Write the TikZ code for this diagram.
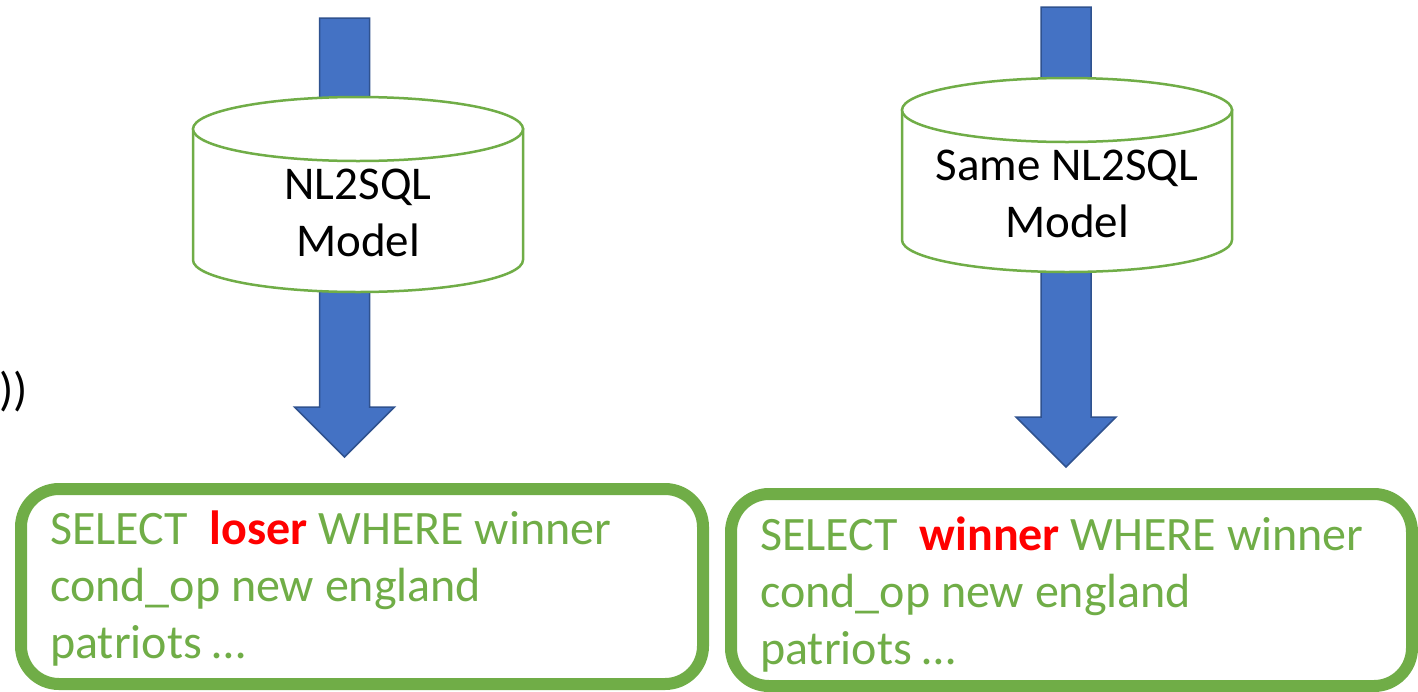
\documentclass[tikz,border=0pt]{standalone}
\usepackage{fontspec}
\setmainfont{Carlito}
\usepackage{tikz}
\usetikzlibrary{calc}

\definecolor{arrowblue}{HTML}{4472C4}
\definecolor{arrowedge}{HTML}{2F528F}
\definecolor{drumgreen}{HTML}{70AD47}
\definecolor{hotred}{HTML}{FF0000}

% block arrow pointing down: (x center, top y, tip y)
\def\modelarrow(#1,#2,#3){\draw[arrowbody] (#1-25,#2) -- (#1+25,#2) -- (#1+25,#3-50) -- (#1+50,#3-50) -- (#1,#3) -- (#1-50,#3-50) -- (#1-25,#3-50) -- cycle;}
% drum shape: (x center, top ellipse y, bottom ellipse y)
\def\modeldrum(#1,#2,#3){\draw[drumline, fill=white] (#1-165,#2) -- (#1-165,#3) arc (180:0:165 and 32) -- (#1+165,#2) -- cycle;
	\draw[drumline, fill=white] (#1,#2) ellipse [x radius=165, y radius=32];}

\begin{document}
\begin{tikzpicture}[x=1pt, y=-1pt,
		arrowbody/.style={fill=arrowblue, draw=arrowedge, line width=1.5pt, line join=miter},
		drumline/.style={draw=drumgreen, line width=2.5pt},
		querybox/.style={draw=drumgreen, line width=12pt, rounded corners=38pt},
		bigtext/.style={font=\fontsize{47}{57}\selectfont, inner sep=0pt},
		querytext/.style={font=\fontsize{48}{57}\selectfont, inner sep=0pt, anchor=base west, align=left, text=drumgreen}]
			%%%%% START %%%%%
			
			\useasboundingbox (0,0) rectangle (1418,691);
			
			\node[bigtext, anchor=base east] (paren) at (28,405) {))};
			
			% left model
			\modelarrow(344.5,18,457)
			\modeldrum(358,129,260)
			\node[bigtext, align=center] (leftmodel) at (358,213) {NL2SQL\\Model};
			
			% right model
			\modelarrow(1066,7,467)
			\modeldrum(1067,110,240)
			\node[bigtext, align=center] (rightmodel) at (1067,194) {Same NL2SQL\\Model};
			
			% generated queries (anchored on the last line)
			\draw[querybox] (21,489) rectangle (703,684);
			\node[querytext] (leftquery) at (50,658)
				{SELECT\ \ \textbf{\color{hotred}loser} WHERE winner\\cond\_op new england\\patriots …};
			
			\draw[querybox] (731,494) rectangle (1412,686);
			\node[querytext] (rightquery) at (760,664)
				{SELECT\ \ \textbf{\color{hotred}winner} WHERE winner\\cond\_op new england\\patriots …};
			
			%%%%% END %%%%%
		\end{tikzpicture}
\end{document}
